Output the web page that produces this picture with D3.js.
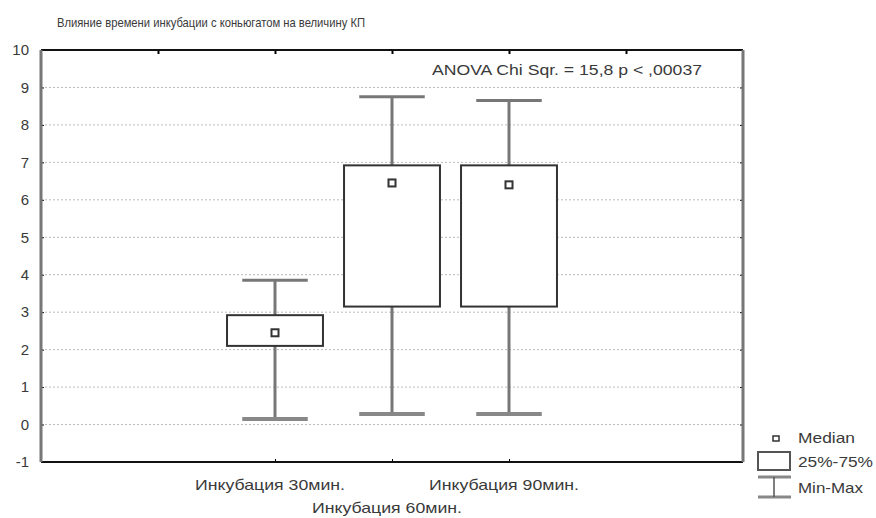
<!DOCTYPE html>
<html>
<head>
<meta charset="utf-8">
<script src="https://cdn.jsdelivr.net/npm/d3@7"></script>
<style>
  body { margin: 0; background: #fff; }
  text { font-family: "Liberation Sans", Arial, sans-serif; fill: #3a3a3a; }
</style>
</head>
<body>
<div id="chart"></div>
<script>
// values
const categories = ["Инкубация 30мин.", "Инкубация 60мин.", "Инкубация 90мин."];
const mins    = [0.15, 0.28, 0.28];
const q1      = [2.1, 3.15, 3.15];
const medians = [2.45, 6.45, 6.4];
const q3      = [2.92, 6.92, 6.92];
const maxs    = [3.85, 8.75, 8.65];
const yTicks  = [-1, 0, 1, 2, 3, 4, 5, 6, 7, 8, 9, 10];
const xTicks  = [1, 2, 3, 4, 5];
const title   = "Влияние времени инкубации с коньюгатом на величину КП";
const note    = "ANOVA Chi Sqr. = 15,8 p < ,00037";
const legendLabels = ["Median", "25%-75%", "Min-Max"];

const width = 876, height = 518;
const margin = { top: 50, right: 133, bottom: 56, left: 41 };
const plotW = width - margin.left - margin.right;
const plotH = height - margin.top - margin.bottom;

const boxes = categories.map((c, i) => ({
    name: c, pos: i + 2,
    min: mins[i], q1: q1[i], median: medians[i], q3: q3[i], max: maxs[i]
}));

const x = d3.scaleLinear().domain([0, 6]).range([0, plotW]);
const y = d3.scaleLinear().domain([-1, 10]).range([plotH, 0]);

const svg = d3.select("#chart").append("svg")
    .attr("width", width)
    .attr("height", height);

svg.append("text")
    .attr("x", 57).attr("y", 27)
    .style("font-size", "13px")
    .attr("textLength", 308)
    .attr("lengthAdjust", "spacingAndGlyphs")
    .text(title);

const g = svg.append("g")
    .attr("transform", `translate(${margin.left}, ${margin.top})`);

// dotted grid
g.selectAll(".grid").data(yTicks.filter(d => d > -1 && d < 10))
    .enter().append("line")
    .attr("class", "grid")
    .attr("x1", 0).attr("x2", plotW)
    .attr("y1", d => y(d)).attr("y2", d => y(d))
    .attr("stroke", "#bbb")
    .attr("stroke-width", 1)
    .attr("stroke-dasharray", "2,2");

// y axis labels
const yAxis = g.append("g")
    .call(d3.axisLeft(y).tickValues(yTicks).tickSize(-3).tickPadding(12)
        .tickFormat(d => d < 0 ? "-" + Math.abs(d) : String(d)));
yAxis.select(".domain").remove();
yAxis.selectAll("line").attr("stroke", "#000");
yAxis.selectAll("text")
    .style("font-size", "15px")
    .style("font-family", "Liberation Sans, Arial, sans-serif")
    .attr("fill", "#3a3a3a");

// x axis (bottom) ticks
const xAxis = g.append("g")
    .attr("transform", `translate(0, ${plotH})`)
    .call(d3.axisBottom(x).tickValues(boxes.map(b => b.pos)).tickSize(-3).tickFormat(""));
xAxis.select(".domain").remove();
xAxis.selectAll("line").attr("stroke", "#000");

// staggered category labels
g.selectAll(".xlab").data(boxes).enter().append("text")
    .attr("class", "xlab")
    .attr("x", d => x(d.pos) - 5 - 75)
    .attr("y", (d, i) => plotH + (i % 2 === 1 ? 51 : 28))
    .style("font-size", "15px")
    .attr("textLength", 150)
    .attr("lengthAdjust", "spacingAndGlyphs")
    .text(d => d.name);

// top ticks
g.append("g")
    .call(d3.axisTop(x).tickValues(xTicks).tickSize(-4).tickFormat(""))
    .call(a => a.select(".domain").remove())
    .selectAll("line").attr("stroke", "#000").attr("stroke-width", 2);

// right ticks
g.append("g")
    .attr("transform", `translate(${plotW}, 0)`)
    .call(d3.axisRight(y).tickValues(yTicks).tickSize(-3).tickFormat(""))
    .call(a => a.select(".domain").remove())
    .selectAll("line").attr("stroke", "#000");

// frame
g.append("line").attr("x1", 0).attr("x2", plotW).attr("y1", 0).attr("y2", 0)
    .attr("stroke", "#111").attr("stroke-width", 2);
g.append("line").attr("x1", 0).attr("x2", plotW).attr("y1", plotH).attr("y2", plotH)
    .attr("stroke", "#111").attr("stroke-width", 2);
g.append("line").attr("x1", 0).attr("x2", 0).attr("y1", 0).attr("y2", plotH)
    .attr("stroke", "#777").attr("stroke-width", 3);
g.append("line").attr("x1", plotW).attr("x2", plotW).attr("y1", 0).attr("y2", plotH)
    .attr("stroke", "#777").attr("stroke-width", 3);

// boxes
const boxW = x(0.82) - x(0);
const capW = x(0.56) - x(0);
const bg = g.selectAll(".box").data(boxes).enter().append("g").attr("class", "box");

bg.append("line")
    .attr("x1", d => x(d.pos)).attr("x2", d => x(d.pos))
    .attr("y1", d => y(d.max)).attr("y2", d => y(d.q3))
    .attr("stroke", "#777").attr("stroke-width", 3);
bg.append("line")
    .attr("x1", d => x(d.pos)).attr("x2", d => x(d.pos))
    .attr("y1", d => y(d.q1)).attr("y2", d => y(d.min))
    .attr("stroke", "#777").attr("stroke-width", 3);
bg.append("line")
    .attr("x1", d => x(d.pos) - capW / 2).attr("x2", d => x(d.pos) + capW / 2)
    .attr("y1", d => y(d.max)).attr("y2", d => y(d.max))
    .attr("stroke", "#777").attr("stroke-width", 3);
bg.append("line")
    .attr("x1", d => x(d.pos) - capW / 2).attr("x2", d => x(d.pos) + capW / 2)
    .attr("y1", d => y(d.min)).attr("y2", d => y(d.min))
    .attr("stroke", "#888").attr("stroke-width", 4);
bg.append("rect")
    .attr("x", d => x(d.pos) - boxW / 2)
    .attr("y", d => y(d.q3))
    .attr("width", boxW)
    .attr("height", d => y(d.q1) - y(d.q3))
    .attr("fill", "#fff")
    .attr("stroke", "#333").attr("stroke-width", 2);
bg.append("rect")
    .attr("x", d => x(d.pos) - 3.5)
    .attr("y", d => y(d.median) - 3.5)
    .attr("width", 7).attr("height", 7)
    .attr("fill", "#fff")
    .attr("stroke", "#333").attr("stroke-width", 2);

// annotation
g.append("text")
    .attr("x", 391).attr("y", 25)
    .style("font-size", "15px")
    .attr("textLength", 270)
    .attr("lengthAdjust", "spacingAndGlyphs")
    .text(note);

// legend
const lg = svg.append("g");
lg.append("rect").attr("x", 773).attr("y", 436).attr("width", 6).attr("height", 5)
    .attr("fill", "#fff").attr("stroke", "#333").attr("stroke-width", 1.5);
lg.append("rect").attr("x", 758).attr("y", 452).attr("width", 32).attr("height", 18)
    .attr("fill", "#fff").attr("stroke", "#555").attr("stroke-width", 2);
lg.append("line").attr("x1", 758).attr("x2", 791).attr("y1", 477).attr("y2", 477)
    .attr("stroke", "#888").attr("stroke-width", 3);
lg.append("line").attr("x1", 758).attr("x2", 791).attr("y1", 497).attr("y2", 497)
    .attr("stroke", "#888").attr("stroke-width", 3);
lg.append("line").attr("x1", 774).attr("x2", 774).attr("y1", 477).attr("y2", 497)
    .attr("stroke", "#555").attr("stroke-width", 1.5);
const legendW = [57, 75, 65];
lg.selectAll(".ltxt").data(legendLabels).enter().append("text")
    .attr("x", 798)
    .attr("y", (d, i) => [443, 467, 493][i])
    .style("font-size", "15px")
    .attr("textLength", (d, i) => legendW[i])
    .attr("lengthAdjust", "spacingAndGlyphs")
    .text(d => d);
</script>
</body>
</html>
